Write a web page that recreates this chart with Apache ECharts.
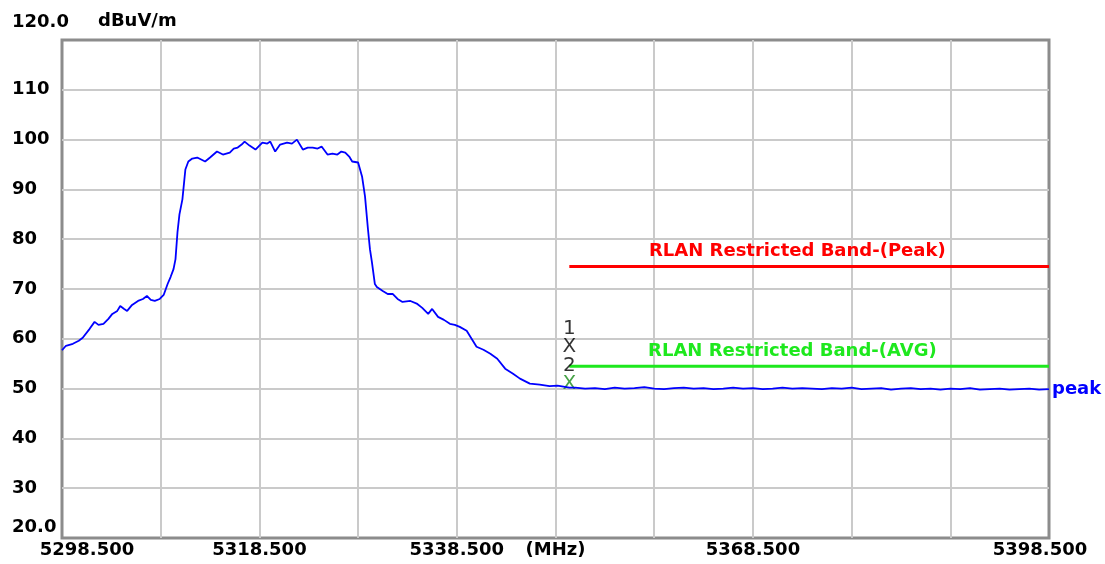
<!DOCTYPE html>
<html>
<head>
<meta charset="utf-8">
<script src="https://cdn.jsdelivr.net/npm/echarts@6/dist/echarts.min.js"></script>
<style>
  html, body { margin: 0; padding: 0; background: #fff; }
  #spectrum { width: 1105px; height: 564px; }
</style>
</head>
<body>
<div id="spectrum"></div>
<script>
// frequency axis starts at 5298.5 MHz, ticks every 10 MHz
const F0 = 5298.5
const F1 = 5398.5

// trace (MHz, dBuV/m)
const freq = [
  5298.5, 5298.9, 5299.6, 5300.2, 5300.6, 5301.3, 5301.8, 5302.2, 5302.7, 5303.2,
  5303.6, 5304.1, 5304.4, 5304.8, 5305.1, 5305.6, 5306.2, 5306.7, 5307.1, 5307.5,
  5307.9, 5308.4, 5308.8, 5309.2, 5309.5, 5309.8, 5310.0, 5310.2, 5310.4, 5310.7,
  5310.9, 5311.0, 5311.3, 5311.7, 5312.2, 5312.6, 5313.0, 5313.5, 5314.2, 5314.8,
  5315.5, 5315.9, 5316.3, 5316.7, 5317.0, 5317.5, 5318.1, 5318.5, 5318.8, 5319.3,
  5319.6, 5320.1, 5320.6, 5321.3, 5321.8, 5322.3, 5322.9, 5323.4, 5323.9, 5324.4,
  5324.8, 5325.4, 5325.9, 5326.4, 5326.8, 5327.2, 5327.6, 5327.9, 5328.5, 5328.9,
  5329.2, 5329.5, 5329.7, 5329.9, 5330.2, 5330.4, 5331.0, 5331.5, 5332.0, 5332.5,
  5333.0, 5333.8, 5334.5, 5335.0, 5335.6, 5336.0, 5336.6, 5337.2, 5337.8, 5338.3,
  5338.8, 5339.5, 5340.0, 5340.5, 5341.2, 5341.9, 5342.6, 5343.4, 5344.2, 5344.9,
  5345.9, 5346.9, 5347.9, 5348.7, 5349.9, 5350.5, 5351.5, 5352.5, 5353.5, 5354.5,
  5355.5, 5356.5, 5357.5, 5358.5, 5359.5, 5360.5, 5361.5, 5362.5, 5363.5, 5364.5,
  5365.5, 5366.5, 5367.5, 5368.5, 5369.5, 5370.5, 5371.5, 5372.5, 5373.5, 5374.5,
  5375.5, 5376.5, 5377.5, 5378.5, 5379.5, 5380.5, 5381.5, 5382.5, 5383.5, 5384.5,
  5385.5, 5386.5, 5387.5, 5388.5, 5389.5, 5390.5, 5391.5, 5392.5, 5393.5, 5394.5,
  5395.5, 5396.5, 5397.5, 5398.5
]
const level = [
  57.7, 58.6, 59.0, 59.6, 60.2, 62.0, 63.4, 62.8, 63.0, 64.0,
  65.0, 65.6, 66.6, 66.0, 65.6, 66.8, 67.6, 68.0, 68.6, 67.8,
  67.6, 68.0, 68.8, 71.0, 72.4, 74.0, 76.0, 81.4, 85.0, 88.0,
  92.0, 94.0, 95.6, 96.2, 96.4, 96.0, 95.6, 96.4, 97.6, 97.0,
  97.4, 98.2, 98.4, 99.0, 99.6, 98.8, 98.0, 98.8, 99.4, 99.2,
  99.6, 97.6, 99.0, 99.4, 99.2, 100.0, 98.0, 98.4, 98.4, 98.2,
  98.6, 97.0, 97.2, 97.0, 97.6, 97.4, 96.6, 95.6, 95.4, 92.6,
  88.6, 82.0, 78.0, 75.4, 71.0, 70.4, 69.6, 69.0, 69.0, 68.0,
  67.4, 67.6, 67.0, 66.2, 65.0, 66.0, 64.4, 63.8, 63.0, 62.8,
  62.4, 61.6, 60.0, 58.4, 57.8, 57.0, 56.0, 54.0, 53.0, 52.0,
  51.0, 50.8, 50.5, 50.6, 50.2, 50.2, 50.0, 50.1, 49.9, 50.2,
  50.0, 50.1, 50.3, 50.0, 49.9, 50.1, 50.2, 50.0, 50.1, 49.9,
  50.0, 50.2, 50.0, 50.1, 49.9, 50.0, 50.2, 50.0, 50.1, 50.0,
  49.9, 50.1, 50.0, 50.2, 49.9, 50.0, 50.1, 49.8, 50.0, 50.1,
  49.9, 50.0, 49.8, 50.0, 49.9, 50.1, 49.8, 49.9, 50.0, 49.8,
  49.9, 50.0, 49.8, 49.9
]

// limit lines
const peakLimit = 74.5
const avgLimit = 54.5
const limitStart = 5349.9
const peakLabelFreq = 5373.0
const avgLabelFreq = 5372.5

// markers
const markerFreq = [5349.9, 5349.9]
const markerLevel = [58.4, 51.0]
const markerName = ['1', '2']
const markerColor = ['#000000', '#1a8c1a']

// x tick labels that are written out
const xTickFreq = [5298.5, 5318.5, 5338.5, 5348.5, 5368.5, 5398.5]
const xTickText = ['5298.500', '5318.500', '5338.500', '(MHz)', '5368.500', '5398.500']

const FONT = 'DejaVu Sans'
const chart = echarts.init(document.getElementById('spectrum'))

const trace = freq.map((f, i) => [f - F0, level[i]])

const limitData = (value, labelFreq) => [
  [limitStart - F0, value],
  { value: [labelFreq - F0, value], label: { show: true } },
  [F1 - F0, value]
]

// one scatter series per marker: number above, X on the point
const markerSeries = markerFreq.map((f, i) => ({
  name: 'marker ' + markerName[i],
  type: 'scatter',
  data: [[f - F0, markerLevel[i]]],
  symbolSize: 1,
  itemStyle: { color: 'rgba(0,0,0,0)' },
  label: {
    show: true,
    position: 'top',
    distance: 0,
    offset: [0, 10],
    fontFamily: FONT,
    fontSize: 20,
    color: '#000',
    textBorderWidth: 0,
    formatter: '{n|' + markerName[i] + '}\n{x|X}',
    rich: {
      n: { fontFamily: FONT, fontSize: 20, color: '#000', lineHeight: 18 },
      x: { fontFamily: FONT, fontSize: 20, color: markerColor[i], lineHeight: 18 }
    }
  },
  z: 4
}))

const option = {
  animation: false,
  grid: {
    left: 62,
    right: 56,
    top: 40,
    bottom: 26,
    show: true,
    borderColor: '#8c8c8c',
    borderWidth: 3
  },
  xAxis: {
    type: 'value',
    min: 0,
    max: F1 - F0,
    interval: 10,
    axisLine: { show: false },
    axisTick: { show: false },
    splitLine: {
      show: true,
      showMinLine: false,
      showMaxLine: false,
      lineStyle: { color: '#cacaca', width: 2 }
    },
    axisLabel: {
      margin: 3,
      showMinLabel: true,
      showMaxLabel: true,
      fontFamily: FONT,
      fontWeight: 'bold',
      fontSize: 18,
      color: '#000',
      formatter: function(v) {
        const idx = xTickFreq.findIndex(f => Math.abs(f - F0 - v) < 0.01)
        if (idx < 0) return ''
        if (idx === 0) return '{first|' + xTickText[idx] + '}'
        if (idx === xTickFreq.length - 1) return '{last|' + xTickText[idx] + '}'
        return xTickText[idx]
      },
      rich: {
        first: { fontFamily: FONT, fontWeight: 'bold', fontSize: 18, color: '#000', padding: [0, 0, 0, 50] },
        last: { fontFamily: FONT, fontWeight: 'bold', fontSize: 18, color: '#000', padding: [0, 18, 0, 0] }
      }
    }
  },
  yAxis: {
    type: 'value',
    min: 20,
    max: 120,
    interval: 10,
    name: 'dBuV/m',
    nameLocation: 'end',
    nameGap: 10,
    nameTextStyle: {
      fontFamily: FONT,
      fontWeight: 'bold',
      fontSize: 18,
      color: '#000',
      align: 'left',
      padding: [0, 0, 0, 36]
    },
    axisLine: { show: false },
    axisTick: { show: false },
    splitLine: {
      show: true,
      showMinLine: false,
      showMaxLine: false,
      lineStyle: { color: '#cacaca', width: 2 }
    },
    axisLabel: {
      align: 'left',
      margin: 50,
      showMinLabel: true,
      showMaxLabel: true,
      fontFamily: FONT,
      fontWeight: 'bold',
      fontSize: 18,
      color: '#000',
      formatter: function(v) {
        if (v === 120) return '{top|120.0}'
        if (v === 20) return '{bottom|20.0}'
        return String(v)
      },
      rich: {
        top: { fontFamily: FONT, fontWeight: 'bold', fontSize: 18, color: '#000', padding: [0, 0, 35, 0] },
        bottom: { fontFamily: FONT, fontWeight: 'bold', fontSize: 18, color: '#000', padding: [0, 0, 22, 0] }
      }
    }
  },
  series: [
    {
      name: 'peak limit',
      type: 'line',
      data: limitData(peakLimit, peakLabelFreq),
      symbol: 'circle',
      symbolSize: 0,
      lineStyle: { color: '#ff0000', width: 3 },
      itemStyle: { color: '#ff0000' },
      label: {
        show: false,
        position: 'top',
        distance: 6,
        formatter: 'RLAN Restricted Band-(Peak)',
        fontFamily: FONT,
        fontWeight: 'bold',
        fontSize: 18,
        color: '#ff0000'
      },
      z: 3
    },
    {
      name: 'avg limit',
      type: 'line',
      data: limitData(avgLimit, avgLabelFreq),
      symbol: 'circle',
      symbolSize: 0,
      lineStyle: { color: '#1ee81e', width: 3 },
      itemStyle: { color: '#1ee81e' },
      label: {
        show: false,
        position: 'top',
        distance: 6,
        formatter: 'RLAN Restricted Band-(AVG)',
        fontFamily: FONT,
        fontWeight: 'bold',
        fontSize: 18,
        color: '#1ee81e'
      },
      z: 3
    },
    ...markerSeries,
    {
      name: 'peak',
      type: 'line',
      data: trace,
      showSymbol: false,
      lineStyle: { color: '#0000ff', width: 1.8 },
      itemStyle: { color: '#0000ff' },
      endLabel: {
        show: true,
        formatter: 'peak',
        distance: 3,
        fontFamily: FONT,
        fontWeight: 'bold',
        fontSize: 18,
        color: '#0000ff'
      },
      z: 5
    }
  ]
}

chart.setOption(option)
</script>
</body>
</html>
